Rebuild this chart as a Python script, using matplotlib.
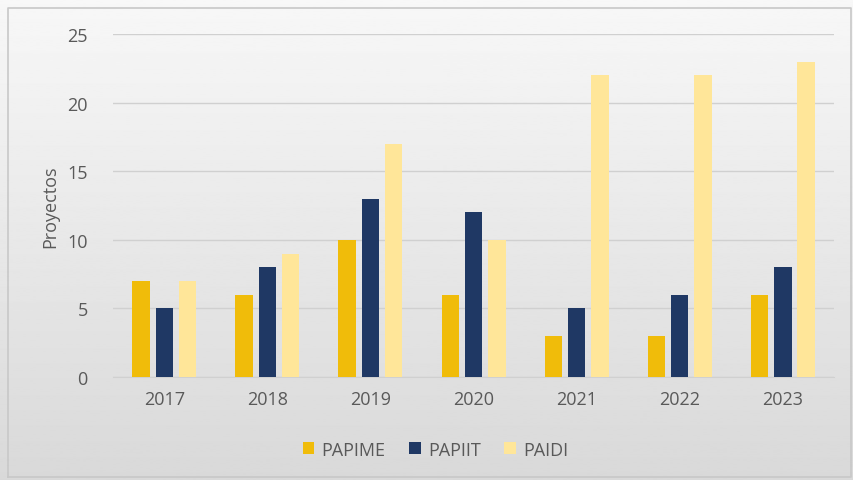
import matplotlib.pyplot as plt
import numpy as np

years = ["2017", "2018", "2019", "2020", "2021", "2022", "2023"]
papime = [7, 6, 10, 6, 3, 3, 6]
papiit = [5, 8, 13, 12, 5, 6, 8]
paidi = [7, 9, 17, 10, 22, 22, 23]

colors = ["#F0BC0A", "#1F3864", "#FFE699"]
text_col = "#595959"

plt.rcParams['font.family'] = ['Open Sans', 'DejaVu Sans']

fig = plt.figure(figsize=(8.54, 4.81), dpi=100)

# fondo degradado
bg = fig.add_axes([0, 0, 1, 1], zorder=-10)
grad = np.linspace(0.97, 0.85, 256).reshape(-1, 1)
bg.imshow(grad, aspect="auto", cmap="gray", vmin=0, vmax=1, extent=[0, 1, 0, 1])
bg.plot([0.009, 0.996, 0.996, 0.009, 0.009], [0.006, 0.006, 0.981, 0.981, 0.006],
        color="#c8c8c8", lw=1.2)
bg.set_xlim(0, 1)
bg.set_ylim(0, 1)
bg.axis("off")

ax = fig.add_axes([0.132, 0.214, 0.845, 0.713])
ax.patch.set_alpha(0)

x = np.arange(len(years))
w = 0.17
off = 0.225
ax.bar(x - off, papime, w, color=colors[0], label="PAPIME", zorder=3)
ax.bar(x, papiit, w, color=colors[1], label="PAPIIT", zorder=3)
ax.bar(x + off, paidi, w, color=colors[2], label="PAIDI", zorder=3)

ax.set_xlim(-0.5, 6.5)
ax.set_ylim(0, 25)
ax.set_yticks(range(0, 26, 5))
ax.set_xticks(x)
ax.set_xticklabels(years)
ax.yaxis.grid(True, color="#d0d0d0", lw=1)
ax.set_axisbelow(True)
for s in ["top", "right", "left"]:
    ax.spines[s].set_visible(False)
ax.spines["bottom"].set_color("#d0d0d0")
ax.tick_params(axis="both", length=0, colors=text_col, labelsize=13)
ax.tick_params(axis="y", pad=18)
ax.tick_params(axis="x", pad=9)
ax.set_ylabel("Proyectos", color=text_col, fontsize=13, labelpad=6)

fig.legend(loc="center", bbox_to_anchor=(0.51, 0.063), ncol=3, frameon=False,
           fontsize=13, labelcolor=text_col, handlelength=0.65, handleheight=0.65,
           columnspacing=1.3, handletextpad=0.4)

plt.savefig("out.png", dpi=100)
